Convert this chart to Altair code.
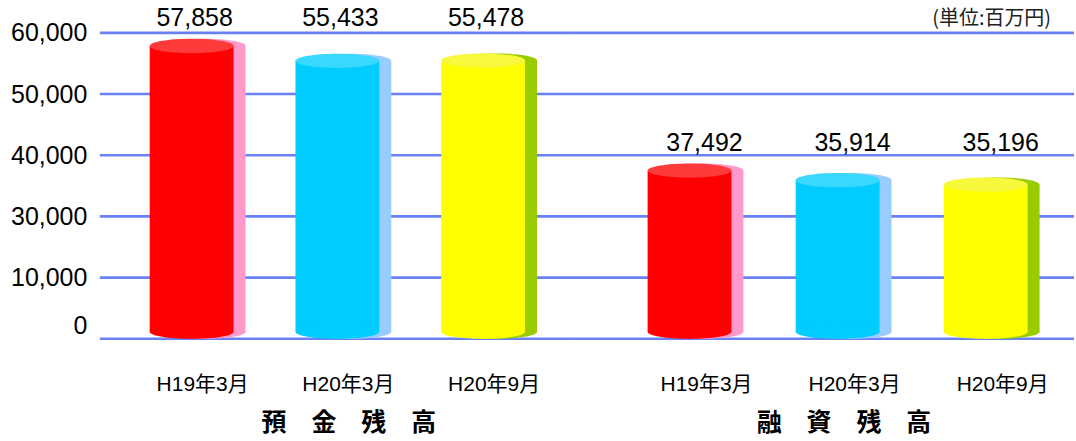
import altair as alt
import pandas as pd

# ---- data ----
periods = ["H19年3月", "H20年3月", "H20年9月"]
groups = ["預金残高", "融資残高"]
deposits = [57858, 55433, 55478]
loans = [37492, 35914, 35196]
y_ticks = [0, 10000, 30000, 40000, 50000, 60000]
unit_label = "(単位:百万円)"

# ---- styles ----
front_colors = ["#FF0000", "#00CCFF", "#FFFF00"]
top_colors = ["#FF3a3a", "#38D8FF", "#F8F83C"]
shade_colors = ["#FF99CC", "#99CCFF", "#99CC00"]
grid_color = "#6A80F8"
NUM_FONT = "Liberation Sans, Arial, Noto Sans CJK JP"
CJK_FONT = "Noto Sans CJK JP"
BAR_W = 84
ELLIPSE = "M-1,0A1,0.17,0,1,1,1,0A1,0.17,0,1,1,-1,0Z"

H = 339
y_scale = alt.Scale(domain=[0, 10000, 30000, 60000],
                    range=[339, 277.7, 216.4, 32.5], nice=False, zero=False)

grid_df = pd.DataFrame({"tick": y_ticks})


def panel(values, group, width, pad_outer, align, label_offset, title_x,
          text_dx, show_axis, with_unit):
    df = pd.DataFrame({"period": periods, "value": values})
    if show_axis:
        y_axis = alt.Axis(values=y_ticks, labelExpr="format(datum.value, ',')",
                          labelFontSize=25,
                          labelFont=NUM_FONT, labelColor="#000000",
                          labelPadding=13, ticks=False, domain=False,
                          grid=False, title=None,
                          labelBaseline={"condition": {"test": "datum.value === 0", "value": "bottom"},
                                         "value": "middle"})
    else:
        y_axis = None

    x_enc = alt.X("period:N", sort=periods,
                  scale=alt.Scale(domain=periods, paddingInner=0,
                                  paddingOuter=pad_outer, align=align),
                  axis=alt.Axis(title="\u3000".join(group), labelAngle=0,
                                labelFontSize=21, labelFont=NUM_FONT,
                                labelColor="#000000", labelPadding=35,
                                labelOffset=label_offset, ticks=False,
                                domain=False, grid=False,
                                titleFont=CJK_FONT, titleFontSize=25,
                                titleFontWeight="bold", titleColor="#000000",
                                titlePadding=16, titleX=title_x))

    def col(rng):
        return alt.Color("period:N", scale=alt.Scale(domain=periods, range=rng),
                         legend=None)

    grid = alt.Chart(grid_df).mark_rule(color=grid_color, strokeWidth=2.6).encode(
        y=alt.Y("tick:Q", scale=y_scale, axis=y_axis)
    )

    base = alt.Chart(df)
    yv = alt.Y("value:Q", scale=y_scale, axis=y_axis)
    y0 = alt.Y("zero:Q", scale=y_scale, axis=y_axis)

    shade_body = base.mark_bar(size=BAR_W, xOffset=12, y2Offset=-7).encode(
        x=x_enc, y=yv, y2=alt.datum(0), color=col(shade_colors))
    shade_top = base.mark_point(shape=ELLIPSE, size=BAR_W * BAR_W, filled=True,
                                opacity=1, strokeWidth=0, xOffset=12).encode(
        x=x_enc, y=yv, color=col(shade_colors))
    shade_bottom = base.transform_calculate(zero="0").mark_point(
        shape=ELLIPSE, size=BAR_W * BAR_W, filled=True, opacity=1,
        strokeWidth=0, xOffset=12, yOffset=-7).encode(
        x=x_enc, y=y0, color=col(shade_colors))
    body = base.mark_bar(size=BAR_W, y2Offset=-7).encode(
        x=x_enc, y=yv, y2=alt.datum(0), color=col(front_colors))
    bottom = base.transform_calculate(zero="0").mark_point(
        shape=ELLIPSE, size=BAR_W * BAR_W, filled=True, opacity=1,
        strokeWidth=0, yOffset=-7).encode(
        x=x_enc, y=y0, color=col(front_colors))
    top = base.mark_point(shape=ELLIPSE, size=BAR_W * BAR_W, filled=True,
                          opacity=1, strokeWidth=0).encode(
        x=x_enc, y=yv, color=col(top_colors))
    labels = base.transform_joinaggregate(gmax="max(value)").mark_text(
        font=NUM_FONT, fontSize=25, color="#000000", dy=-28, dx=text_dx,
        baseline="middle").encode(
        x=x_enc, y=alt.Y("gmax:Q", scale=y_scale, axis=y_axis),
        text=alt.Text("value:Q", format=","))

    layers = [grid, shade_body, shade_top, shade_bottom, body, bottom, top, labels]
    if with_unit:
        unit = alt.Chart(pd.DataFrame({"t": [unit_label]})).mark_text(
            font=CJK_FONT, fontSize=20, color="#222222", align="right",
            baseline="middle").encode(
            x=alt.value(width - 23), y=alt.value(19), text="t:N")
        layers.append(unit)

    return alt.layer(*layers).resolve_scale(color="independent").properties(
        width=width, height=H)


left = panel(deposits, groups[0], 476, 0.13, 0.5, 11, 249, 3, True, False)
right = panel(loans, groups[1], 500, 0.185, 0.74, 17, 269, 15, False, True)

chart = alt.hconcat(left, right, spacing=0, bounds="flush").properties(
    padding={"left": 10, "top": 0, "right": 0, "bottom": 4}
).configure_view(stroke=None)

chart.save("out.html", embed_options={"renderer": "svg", "actions": False})
